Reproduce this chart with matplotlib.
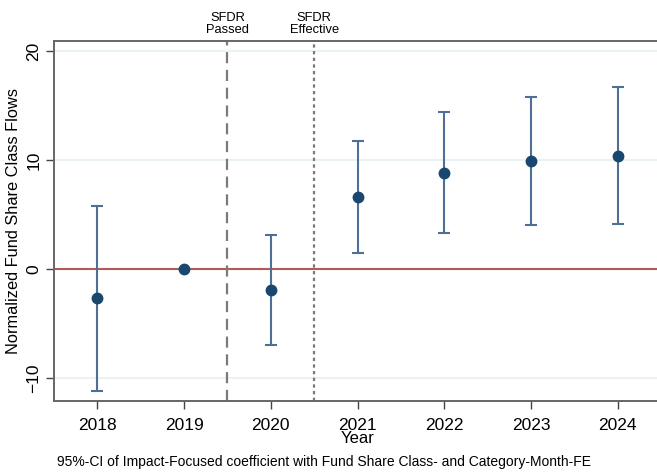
import matplotlib
matplotlib.use("Agg")
import matplotlib.pyplot as plt

plt.rcParams['font.family'] = ['Liberation Sans', 'DejaVu Sans']

years = [2018, 2019, 2020, 2021, 2022, 2023, 2024]
coef = [-2.65, 0.0, -1.9, 6.65, 8.85, 9.95, 10.4]
ci_low = [-11.2, 0.0, -6.95, 1.45, 3.3, 4.0, 4.1]
ci_high = [5.8, 0.0, 3.1, 11.75, 14.4, 15.8, 16.7]
yticks = [-10, 0, 10, 20]
events = [2019.5, 2020.5]
event_labels = ["SFDR\nPassed", "SFDR\nEffective"]
event_styles = [(0, (5, 3)), (0, (1.5, 1.5))]

fig = plt.figure(figsize=(6.57, 4.73), dpi=100)
ax = fig.add_axes([54/657, 1-401/473, (661-54)/657, (401-40.7)/473])

for y in yticks:
    ax.axhline(y, color='#eaf2f3', lw=1.5, zorder=0)
ax.axhline(0, color='#b5585a', lw=1.5, zorder=1)

for x, lab, ls in zip(events, event_labels, event_styles):
    ax.axvline(x, color='#7a7a7a', lw=1.6, linestyle=ls, zorder=1)
    ax.text(x, 1.012, lab, transform=ax.get_xaxis_transform(), ha='center', va='bottom',
            fontsize=9.3, linespacing=1.0)

err_lo = [c - l for c, l in zip(coef, ci_low)]
err_hi = [h - c for c, h in zip(coef, ci_high)]
ax.errorbar(years, coef, yerr=[err_lo, err_hi], fmt='none', ecolor='#4e6f96', elinewidth=1.5,
            capsize=4, capthick=1.5, zorder=2)
ax.plot(years, coef, 'o', color='#1a476f', markersize=7.5, zorder=3)

ax.set_xlim(2017.5, 2024.5)
ax.set_ylim(-12.1, 20.95)
ax.set_xticks(years)
ax.set_yticks(yticks)
ax.tick_params(axis='y', labelrotation=90, labelsize=12.5, length=6, width=1, color='#444444', pad=3)
ax.tick_params(axis='x', labelsize=12.5, length=6, width=1, color='#444444', pad=6)
for lbl in ax.get_yticklabels():
    lbl.set_va('center')
for s in ax.spines.values():
    s.set_color('#666666')
    s.set_linewidth(1.4)

ax.set_xlabel('Year', fontsize=12, labelpad=-1)
ax.set_ylabel('Normalized Fund Share Class Flows', fontsize=11.8, labelpad=4)
fig.text(57/657, 1-462/473, '95%-CI of Impact-Focused coefficient with Fund Share Class- and Category-Month-FE',
         fontsize=10, ha='left', va='center')

fig.savefig('out.png', dpi=100)
